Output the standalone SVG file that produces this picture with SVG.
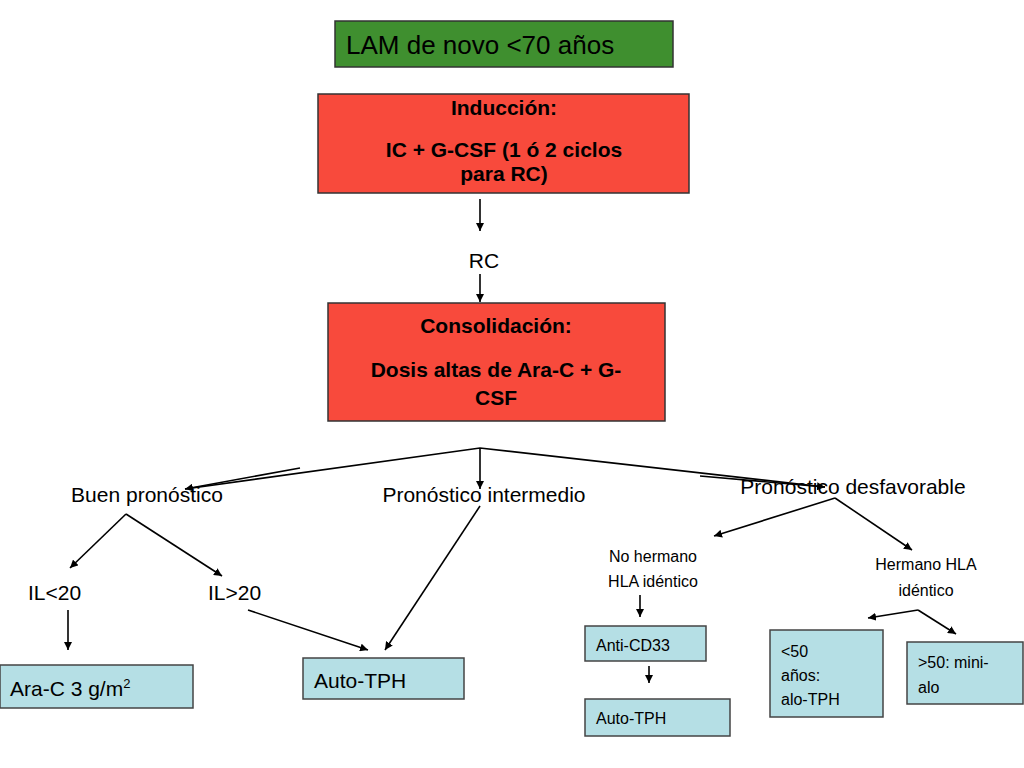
<svg xmlns="http://www.w3.org/2000/svg" width="1024" height="768" viewBox="0 0 1024 768">
<defs><marker id="a" viewBox="0 0 10 10" refX="10" refY="5" markerWidth="8" markerHeight="8" markerUnits="userSpaceOnUse" orient="auto"><path d="M0,0L10,5L0,10z" fill="#000"/></marker></defs>
<style>
text{font-family:"Liberation Sans",Arial,sans-serif;fill:#000}
.r{fill:#f84a3c;stroke:#333;stroke-width:1.5}
.b{fill:#b5dfe5;stroke:#444;stroke-width:1.5}
.b2{font-weight:bold;font-size:21px}
.c line{stroke:#000;stroke-width:1.6;marker-end:url(#a)}
</style>
<rect width="1024" height="768" fill="#fff"/>
<g id="lam"><rect x="335" y="21" width="338" height="46" fill="#3f8f2f" stroke="#333" stroke-width="1.5"/><text x="346" y="54" font-size="26">LAM de novo &lt;70 años</text></g>
<g id="ind"><rect class="r" x="318" y="94" width="371" height="99"/><text class="b2" x="504" y="115" text-anchor="middle">Inducción:</text><text class="b2" x="504" y="157" text-anchor="middle">IC  + G-CSF (1 ó 2 ciclos</text><text class="b2" x="504" y="181" text-anchor="middle">para RC)</text></g>
<g id="rc"><text x="484" y="268" font-size="21" text-anchor="middle">RC</text></g>
<g id="cons"><rect class="r" x="328" y="303" width="337" height="118"/><text class="b2" x="496" y="333" text-anchor="middle">Consolidación:</text><text class="b2" x="496" y="377" text-anchor="middle">Dosis altas de Ara-C + G-</text><text class="b2" x="496" y="405" text-anchor="middle">CSF</text></g>
<g id="buen"><text x="147" y="502" font-size="21" text-anchor="middle">Buen pronóstico</text></g>
<g id="inter"><text x="484" y="502" font-size="21" text-anchor="middle">Pronóstico intermedio</text></g>
<g id="desf"><text x="853" y="494" font-size="21" text-anchor="middle">Pronóstico desfavorable</text></g>
<g id="il1"><text x="28" y="600" font-size="21">IL&lt;20</text></g>
<g id="il2"><text x="208" y="600" font-size="21">IL&gt;20</text></g>
<g id="arac"><rect class="b" x="0" y="665" width="193" height="43"/><text x="10" y="696" font-size="21">Ara-C 3 g/m<tspan font-size="13" dy="-8">2</tspan></text></g>
<g id="auto1"><rect class="b" x="303" y="658" width="161" height="41"/><text x="314" y="688" font-size="21">Auto-TPH</text></g>
<g id="nohla"><text x="653" y="562" font-size="16" text-anchor="middle">No hermano</text><text x="653" y="587" font-size="16" text-anchor="middle">HLA idéntico</text></g>
<g id="hla"><text x="926" y="570" font-size="16" text-anchor="middle">Hermano HLA</text><text x="926" y="596" font-size="16" text-anchor="middle">idéntico</text></g>
<g id="cd33"><rect class="b" x="585" y="626" width="121" height="35"/><text x="596" y="651" font-size="16">Anti-CD33</text></g>
<g id="auto2"><rect class="b" x="585" y="699" width="145" height="37"/><text x="596" y="724" font-size="16">Auto-TPH</text></g>
<g id="lt50"><rect class="b" x="770" y="630" width="113" height="87"/><text x="781" y="657" font-size="16">&lt;50</text><text x="781" y="681" font-size="16">años:</text><text x="781" y="705" font-size="16">alo-TPH</text></g>
<g id="gt50"><rect class="b" x="907" y="642" width="116" height="62"/><text x="918" y="668" font-size="16">&gt;50: mini-</text><text x="918" y="693" font-size="16">alo</text></g>
<g class="c" id="connectors">
<line x1="480" y1="199" x2="480" y2="231"/>
<line x1="480" y1="274" x2="480" y2="302"/>
<path d="M185,489L480,448L825,487" fill="none" stroke="#000" stroke-width="1.6"/>
<line x1="300" y1="468" x2="185" y2="489"/>
<line x1="480" y1="448" x2="480" y2="489"/>
<line x1="700" y1="476" x2="825" y2="487"/>
<line x1="126" y1="514" x2="70" y2="568"/>
<line x1="126" y1="514" x2="222" y2="576"/>
<line x1="68" y1="610" x2="68" y2="650"/>
<line x1="248" y1="610" x2="368" y2="650"/>
<line x1="480" y1="506" x2="385" y2="650"/>
<line x1="835" y1="498" x2="714" y2="536"/>
<line x1="835" y1="498" x2="912" y2="550"/>
<line x1="640" y1="595" x2="640" y2="617"/>
<line x1="649" y1="666" x2="649" y2="683"/>
<line x1="918" y1="610" x2="868" y2="618"/>
<line x1="918" y1="610" x2="956" y2="634"/>
</g>
</svg>
